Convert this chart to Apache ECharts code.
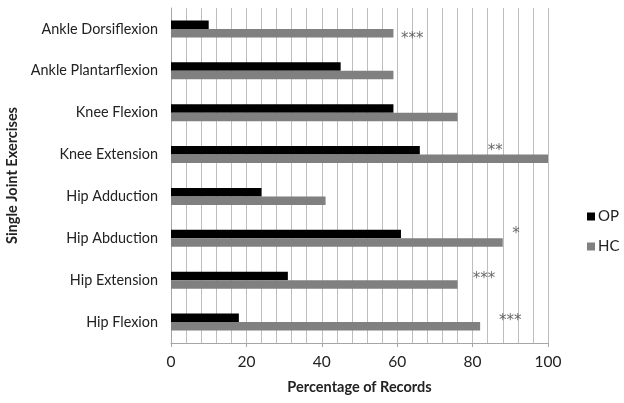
<!DOCTYPE html>
<html><head><meta charset="utf-8">
<script src="https://cdn.jsdelivr.net/npm/echarts@6/dist/echarts.min.js"></script>
<style>html,body{margin:0;padding:0;background:#fff}#c{width:624px;height:403px}</style>
</head><body><div id="c"></div>
<script>
var categories = ["Hip Flexion","Hip Extension","Hip Abduction","Hip Adduction","Knee Extension","Knee Flexion","Ankle Plantarflexion","Ankle Dorsiflexion"];
var opValues = [18,31,61,24,66,59,45,10];
var hcValues = [82,76,88,41,100,76,59,59];
var sigCategories = ["Hip Flexion","Hip Extension","Hip Abduction","Knee Extension","Ankle Dorsiflexion"];
var sigLabels = ["***","***","*","**","***"];
var sigX = [90,83,91.5,86,64];
var sigDy = [-1,-1,-4,-3,10];

var FONT = "Lato";
var chart = echarts.init(document.getElementById('c'), null, {renderer:'canvas'});
chart.setOption({
  animation:false,
  textStyle:{fontFamily:FONT},
  grid:{left:171,right:76,top:8,bottom:60,containLabel:false,outerBoundsMode:'none'},
  legend:{
    orient:'vertical', left:582, top:204, itemWidth:8, itemHeight:8, itemGap:15,
    icon:'rect', data:['OP','HC'],
    textStyle:{fontFamily:FONT,fontSize:15,color:'#222',padding:[0,0,0,-2]}
  },
  xAxis:{
    type:'value', min:0, max:100, interval:20,
    name:'Percentage of Records', nameLocation:'middle', nameGap:37,
    nameTextStyle:{fontFamily:FONT,fontWeight:'bold',fontSize:14.5,color:'#222'},
    axisLine:{show:true,lineStyle:{color:'#a6a6a6'}},
    axisTick:{show:true,length:4,lineStyle:{color:'#a6a6a6'}},
    axisLabel:{fontFamily:FONT,fontSize:15.5,color:'#222',margin:11},
    splitLine:{show:true,lineStyle:{color:'#bdbdbd',width:1}},
    minorTick:{show:false,splitNumber:5},
    minorSplitLine:{show:true,lineStyle:{color:'#bdbdbd',width:1}}
  },
  yAxis:{
    type:'category', data:categories,
    name:'Single Joint Exercises', nameLocation:'middle', nameGap:147, nameRotate:90,
    nameTextStyle:{fontFamily:FONT,fontWeight:'bold',fontSize:14.5,color:'#222'},
    axisLine:{show:true,lineStyle:{color:'#a6a6a6'}},
    axisTick:{show:false},
    axisLabel:{fontFamily:FONT,fontSize:14.4,color:'#222',margin:13},
    splitLine:{show:false}
  },
  series:[
    {name:'OP',type:'bar',data:opValues,itemStyle:{color:'#000000'},barWidth:8.5,barGap:'0%'},
    {name:'HC',type:'bar',data:hcValues,itemStyle:{color:'#808080'},barWidth:8.5,barGap:'0%'},
    {name:'sig',type:'scatter',symbolSize:0,silent:true,
     data:sigCategories.map(function(c,i){return {value:[sigX[i],c],label:{offset:[0,sigDy[i]]}};}),
     label:{show:true,position:'inside',fontFamily:'DejaVu Sans',fontSize:15,color:'#444',
       formatter:function(p){return sigLabels[p.dataIndex];}}}
  ]
});
</script></body></html>
